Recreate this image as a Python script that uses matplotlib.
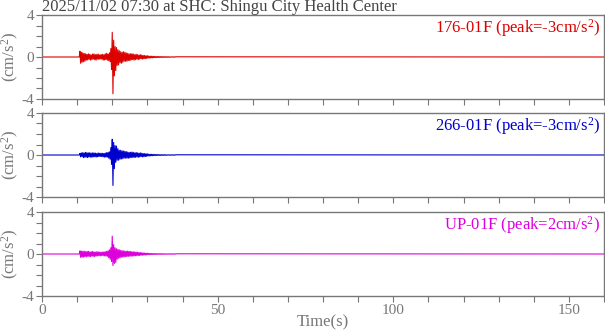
import numpy as np
import matplotlib
matplotlib.use("Agg")
import matplotlib.pyplot as plt

plt.rcParams['font.family'] = ['Liberation Serif', 'DejaVu Serif']
plt.rcParams['mathtext.fontset'] = 'custom'
plt.rcParams['mathtext.rm'] = 'Liberation Serif'
plt.rcParams['mathtext.it'] = 'Liberation Serif:italic'

title = "2025/11/02 07:30 at SHC: Shingu City Health Center"
channels = ["176-01F", "266-01F", "UP-01F"]
peaks = ["-3", "-3", "2"]
colors = ["#dd0000", "#0000cc", "#dd00dd"]

# sampling of the active part of the record (s)
t_start = 10.6
dt = 0.2

red_vals = [
    0.0, 0.55, -0.6, 0.45, -0.5, 0.4, -0.45, 0.35, -0.4, 0.3,
    -0.3, 0.25, -0.28, 0.3, -0.22, 0.26, -0.3, 0.2, -0.25, 0.28,
    -0.2, 0.3, -0.26, 0.22, -0.3, 0.25, -0.2, 0.28, -0.24, 0.2,
    -0.18, 0.24, -0.2,
    0.25, -0.3, 0.22, -0.28, 0.3, -0.25, 0.35, -0.3, 0.28, -0.35, 0.4, -0.45,
    0.8, -1.2, 2.35, -3.5, 1.6, -1.8, 1.0, -1.3,
    0.9, -0.8, 0.7, -0.75, 0.6, -0.55, 0.5, -0.6, 0.45, -0.5, 0.5, -0.4, 0.45, -0.42, 0.38,
    -0.4, 0.35, -0.33, 0.3, -0.35, 0.3, -0.28, 0.32, -0.25, 0.28,
    -0.3, 0.22, -0.25, 0.27, -0.2, 0.22, -0.25, 0.18, -0.2, 0.22,
    -0.16, 0.18, -0.2, 0.15, -0.17, 0.14, -0.16, 0.12, -0.14, 0.12,
    -0.1, 0.09, -0.1, 0.08, -0.09, 0.08, -0.08, 0.07, -0.07, 0.06,
    -0.06, 0.05, -0.06, 0.05, -0.05, 0.05, -0.05, 0.04, -0.04, 0.04,
    -0.04, 0.03, -0.04, 0.03, -0.03, 0.03, -0.03, 0.03, -0.03, 0.02,
    -0.03, 0.02, -0.02, 0.02, -0.02, 0.02, -0.02, 0.02, -0.02, 0.02,
]

blue_vals = [
    0.0, 0.15, -0.18, 0.2, -0.15, 0.22, -0.25, 0.2, -0.22, 0.25,
    -0.2, 0.22, -0.25, 0.2, -0.18, 0.22, -0.2, 0.18, -0.22, 0.2,
    -0.18, 0.2, -0.16, 0.18, -0.2, 0.15, -0.17, 0.2, -0.15, 0.16,
    -0.14, 0.17, -0.15,
    0.16, -0.18, 0.15, -0.2, 0.18, -0.2, 0.22, -0.2, 0.25, -0.3, 0.3, -0.4,
    0.7, -0.9, 1.5, -2.9, 1.2, -1.3, 0.9, -0.7,
    0.85, -0.5, 0.6, -0.5, 0.45, -0.4, 0.45, -0.38, 0.4, -0.35, 0.38, -0.3, 0.35, -0.3, 0.32,
    -0.3, 0.28, -0.3, 0.25, -0.28, 0.26, -0.25, 0.28, -0.22, 0.25,
    -0.24, 0.2, -0.22, 0.24, -0.18, 0.2, -0.22, 0.17, -0.18, 0.2,
    -0.15, 0.17, -0.18, 0.14, -0.16, 0.13, -0.15, 0.12, -0.13, 0.11,
    -0.09, 0.08, -0.09, 0.07, -0.08, 0.07, -0.07, 0.06, -0.06, 0.05,
    -0.05, 0.05, -0.05, 0.04, -0.04, 0.04, -0.04, 0.03, -0.04, 0.03,
    -0.03, 0.03, -0.03, 0.03, -0.03, 0.02, -0.03, 0.02, -0.02, 0.02,
    -0.02, 0.02, -0.02, 0.02, -0.02, 0.02, -0.02, 0.02, -0.02, 0.02,
]

mag_vals = [
    0.0, 0.3, -0.32, 0.28, -0.3, 0.25, -0.3, 0.28, -0.25, 0.22,
    -0.28, 0.25, -0.22, 0.26, -0.24, 0.2, -0.25, 0.22, -0.2, 0.24,
    -0.22, 0.2, -0.24, 0.18, -0.2, 0.22, -0.18, 0.2, -0.16, 0.18,
    -0.18, 0.17, -0.15,
    0.18, -0.16, 0.2, -0.18, 0.22, -0.2, 0.25, -0.22, 0.3, -0.35, 0.4, -0.5,
    0.6, -0.7, 1.7, -1.1, 0.9, -0.9, 0.6, -0.8,
    0.5, -0.5, 0.45, -0.4, 0.4, -0.38, 0.35, -0.3, 0.32, -0.3, 0.3, -0.28, 0.28, -0.25, 0.26,
    -0.25, 0.28, -0.22, 0.25, -0.22, 0.24, -0.2, 0.22, -0.2, 0.2,
    -0.18, 0.2, -0.17, 0.18, -0.16, 0.17, -0.15, 0.14, -0.14, 0.13,
    -0.12, 0.12, -0.11, 0.1, -0.1, 0.09, -0.09, 0.08, -0.08, 0.08,
    -0.06, 0.06, -0.06, 0.05, -0.05, 0.05, -0.05, 0.04, -0.04, 0.04,
    -0.04, 0.04, -0.04, 0.03, -0.03, 0.03, -0.03, 0.03, -0.03, 0.03,
    -0.03, 0.02, -0.03, 0.02, -0.02, 0.02, -0.02, 0.02, -0.02, 0.02,
    -0.02, 0.02, -0.02, 0.02, -0.02, 0.02, -0.02, 0.02, -0.02, 0.02,
]

record_end = 160.0
series = [red_vals, blue_vals, mag_vals]

gray = "#777777"
fig = plt.figure(figsize=(6.05, 3.34), dpi=100)
left = 42 / 605
width = 562 / 605
tops = [15, 113, 212]
h = 84

for i, (vals, ch, pk, col) in enumerate(zip(series, channels, peaks, colors)):
    bottom = (334 - tops[i] - h) / 334
    ax = fig.add_axes([left, bottom, width, h / 334])
    t = t_start + dt * np.arange(len(vals))
    tt = np.concatenate([[0.0], t, [record_end]])
    vv = np.concatenate([[0.0], vals, [0.0]])
    ax.plot(tt, vv, color=col, lw=0.8)
    ax.set_xlim(0, 160)
    ax.set_ylim(-4, 4)
    ax.set_yticks(np.arange(-4, 5, 1))
    ax.set_yticklabels(["-4", "", "", "", "0", "", "", "", "4"])
    ax.set_xticks(np.arange(0, 161, 10))
    if i == 2:
        ax.set_xticklabels([str(v) if v % 50 == 0 else "" for v in range(0, 161, 10)])
        ax.set_xlabel("Time(s)", fontsize=12, color=gray, labelpad=-1.5)
    else:
        ax.set_xticklabels([])
    for s in ax.spines.values():
        s.set_color(gray)
        s.set_linewidth(1.0)
    ax.tick_params(direction='out', length=4, width=0.8, color=gray,
                   labelcolor=gray, labelsize=11, pad=1.5)
    ax.set_ylabel("(cm/s$^{\\mathrm{2}}$)", fontsize=12, color=gray)
    ax.yaxis.set_label_coords(-0.038, 0.5)
    ax.text(0.993, 0.97, ch + " (peak=" + pk + "cm/s$^{\\mathrm{2}}$)",
            transform=ax.transAxes, ha='right', va='top', color=col, fontsize=12)
    if i == 0:
        ax.text(0.0, 1.0, title, transform=ax.transAxes, ha='left', va='bottom',
                fontsize=12, color="#444444")

fig.savefig("out.png", dpi=100)
